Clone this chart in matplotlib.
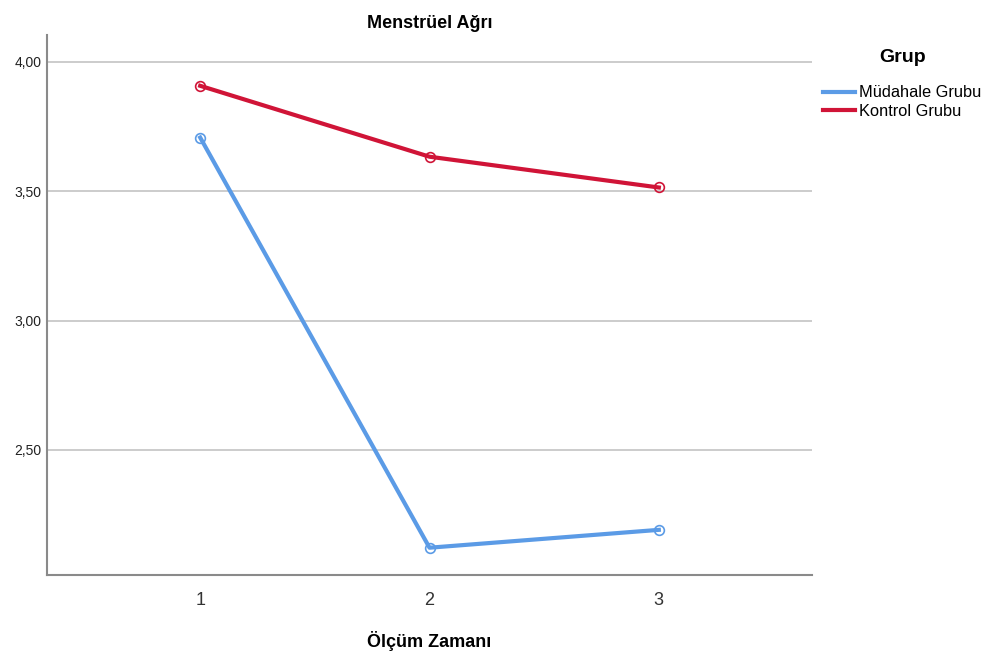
import matplotlib
matplotlib.use("Agg")
import matplotlib.pyplot as plt
from matplotlib.lines import Line2D

times = [1, 2, 3]
tick_labels = ["1", "2", "3"]
mudahale = [3.707, 2.122, 2.191]
kontrol = [3.907, 3.633, 3.514]
series_names = ["Müdahale Grubu", "Kontrol Grubu"]
colors = ["#5b9be6", "#d01437"]
yticks = [2.50, 3.00, 3.50, 4.00]

plt.rcParams['font.family'] = ['Liberation Sans', 'DejaVu Sans']

fig = plt.figure(figsize=(9.84, 6.57), dpi=100)
ax = fig.add_axes([0.048, 0.125, 0.777, 0.822])

for vals, c in zip([mudahale, kontrol], colors):
    ax.plot(times, vals, color=c, lw=3, zorder=3)
    ax.plot(times, vals, 'o', ms=7, mfc='none', mec=c, mew=1.2, zorder=4)

ax.set_xlim(0.333, 3.667)
ax.set_ylim(2.017, 4.104)
ax.set_xticks(times)
ax.set_xticklabels(tick_labels, fontsize=13, color='#333333')
ax.set_yticks(yticks)
ax.set_yticklabels([f"{v:.2f}".replace('.', ',') for v in yticks], fontsize=10, color='#222222')
ax.tick_params(length=0)
ax.tick_params(axis='x', pad=12)
ax.tick_params(axis='y', pad=4)
ax.grid(axis='y', color='#c8c8c8', lw=1.3)
ax.set_axisbelow(True)
for s in ['top', 'right']:
    ax.spines[s].set_visible(False)
for s in ['left', 'bottom']:
    ax.spines[s].set_color('#8a8a8a')
    ax.spines[s].set_linewidth(1.5)

ax.set_title("Menstrüel Ağrı", fontsize=13, fontweight='bold', pad=5)
ax.set_xlabel("Ölçüm Zamanı", fontsize=13, fontweight='bold', labelpad=16.5)

handles = [Line2D([0], [0], color=c, lw=3) for c in colors]
leg = fig.legend(handles, series_names, loc='upper left', bbox_to_anchor=(0.821, 0.948),
                 frameon=False, title="Grup", fontsize=11.8, title_fontsize=14,
                 handlelength=2.0, handletextpad=0.25, labelspacing=0.22)
leg.get_title().set_fontweight('bold')
leg._legend_box.sep = 14

fig.savefig("out.png", dpi=100)
